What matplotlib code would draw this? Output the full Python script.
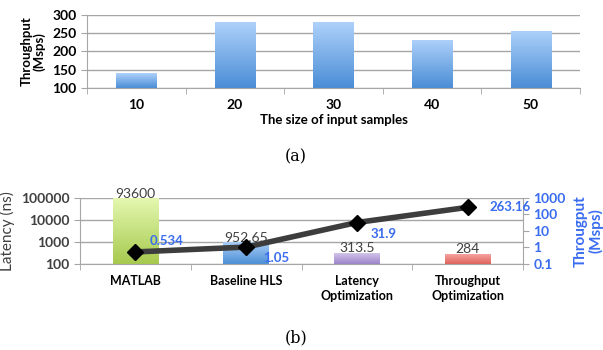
import numpy as np
import matplotlib
matplotlib.use("Agg")
import matplotlib.pyplot as plt
from matplotlib.colors import LinearSegmentedColormap
from matplotlib.ticker import NullLocator

plt.rcParams['font.family'] = ['Lato', 'DejaVu Sans']

# (a) throughput vs input size
sizes = ['10', '20', '30', '40', '50']
size_tput = np.array([140, 280, 280, 232, 257])
tput_ticks = [100, 150, 200, 250, 300]

# (b) latency / throughput per design
designs = ['MATLAB', 'Baseline HLS', 'Latency\nOptimization', 'Throughput\nOptimization']
latency = np.array([93600, 952.65, 313.5, 284])
latency_labels = ['93600', '952.65', '313.5', '284']
throughput = np.array([0.534, 1.05, 31.9, 263.16])
throughput_labels = ['0.534', '1.05', '31.9', '263.16']
lat_ticks = [100, 1000, 10000, 100000]
thr_ticks = [0.1, 1, 10, 100, 1000]

bar_colors = [('#e4f8b0', '#a6c94e'), ('#a9cdf6', '#4c8fd6'),
              ('#d2c3ea', '#9c84c9'), ('#f8aaa6', '#e0625d')]
blue_top, blue_bot = '#aed1fa', '#4a8dd6'
GRID = '#a6a6a6'
DARK = '#404040'
BLUE = '#3a6cf0'


def gradient_bars(ax, bars, colors):
    to_axes = ax.transData + ax.transAxes.inverted()
    ax.set_autoscale_on(False)
    grad = np.linspace(0, 1, 256).reshape(-1, 1)
    for bar, (top, bot) in zip(bars, colors):
        x0, y0, x1, y1 = bar.get_bbox().extents
        (ax0, ay0), (ax1, ay1) = to_axes.transform([(x0, y0), (x1, y1)])
        cmap = LinearSegmentedColormap.from_list('g', [bot, top])
        im = ax.imshow(grad, cmap=cmap, origin='lower', aspect='auto',
                       extent=(ax0, ax1, max(ay0, 0), ay1),
                       transform=ax.transAxes, zorder=2)
        im.set_clip_path(bar)
        bar.set_alpha(0)


def style_axis(ax):
    for s in ['top', 'right']:
        ax.spines[s].set_visible(False)
    for s in ['left', 'bottom']:
        ax.spines[s].set_color(GRID)
    ax.yaxis.grid(True, color=GRID, lw=1)
    ax.set_axisbelow(True)
    ax.tick_params(axis='x', which='major', length=0, pad=8)
    ax.tick_params(axis='x', which='minor', length=4, color=GRID)
    ax.tick_params(axis='y', length=4, color=GRID)


fig = plt.figure(figsize=(6.03, 3.5), dpi=100)

# ---- (a)
ax = fig.add_axes([0.1443, 0.749, 0.8176, 0.208])
x = np.arange(len(sizes))
bars = ax.bar(x, size_tput - 100, bottom=100, width=0.41, zorder=2)
ax.set_xlim(-0.5, len(sizes) - 0.5)
ax.set_ylim(100, 300)
gradient_bars(ax, bars, [(blue_top, blue_bot)] * len(sizes))
style_axis(ax)
ax.set_xticks(x)
ax.set_xticklabels(sizes, fontsize=10, fontweight='bold')
ax.set_xticks(np.arange(len(sizes) + 1) - 0.5, minor=True)
ax.set_yticks(tput_ticks)
ax.set_yticklabels([str(t) for t in tput_ticks], fontsize=10, fontweight='bold')
ax.set_xlabel('The size of input samples', fontsize=9.5, fontweight='bold', labelpad=2)
ax.set_ylabel('Throughput\n(Msps)', fontsize=9.5, fontweight='bold', labelpad=5,
              linespacing=1.0)
fig.text(0.491, 0.552, '(a)', family='DejaVu Serif', fontsize=11.5, ha='center', va='center')

# ---- (b)
ax = fig.add_axes([0.1327, 0.2457, 0.7347, 0.1894])
x = np.arange(len(designs))
ax.set_yscale('log')
bars = ax.bar(x, latency - 100, bottom=100, width=0.41, zorder=2)
ax.set_xlim(-0.5, len(designs) - 0.5)
ax.set_ylim(100, 100000)
gradient_bars(ax, bars, bar_colors)
style_axis(ax)
ax.yaxis.set_minor_locator(NullLocator())
ax.set_yticks(lat_ticks)
ax.set_yticklabels([str(t) for t in lat_ticks], fontsize=10, fontweight='bold', color=DARK)
ax.set_xticks(x)
ax.set_xticklabels(designs, fontsize=9, fontweight='bold', linespacing=1.25, va='top')
ax.set_xticks(np.arange(len(designs) + 1) - 0.5, minor=True)
ax.set_ylabel('Latency (ns)', fontsize=11, color=DARK, labelpad=4)
for xi, v, lab in zip(x, latency, latency_labels):
    ax.annotate(lab, (xi, v), xytext=(0, -1), textcoords='offset points',
                ha='center', va='bottom', fontsize=10, color=DARK)

ax2 = ax.twinx()
ax2.set_yscale('log')
ax2.set_ylim(0.1, 1000)
ax2.yaxis.set_minor_locator(NullLocator())
ax2.set_yticks(thr_ticks)
ax2.set_yticklabels([str(t) for t in thr_ticks], fontsize=10, fontweight='bold', color=BLUE)
for s in ['top', 'left', 'bottom']:
    ax2.spines[s].set_visible(False)
ax2.spines['right'].set_color(GRID)
ax2.tick_params(axis='y', length=4, color=GRID)
ax2.set_ylabel('Througput\n(Msps)', fontsize=11, fontweight='bold', color=BLUE,
               labelpad=6, linespacing=1.0)
ax2.plot(x, throughput, color='#3d3d3d', lw=4, marker='D', ms=8.5,
         mfc='black', mec='black', zorder=5)
offsets = [(10, 8), (12, -8), (10, -8), (16, 0)]
for xi, v, lab, off in zip(x, throughput, throughput_labels, offsets):
    ax2.annotate(lab, (xi, v), xytext=off, textcoords='offset points',
                 ha='left', va='center', fontsize=9.5, fontweight='bold', color=BLUE)
fig.text(0.491, 0.034, '(b)', family='DejaVu Serif', fontsize=11.5, ha='center', va='center')

fig.savefig('out.png', dpi=100)
